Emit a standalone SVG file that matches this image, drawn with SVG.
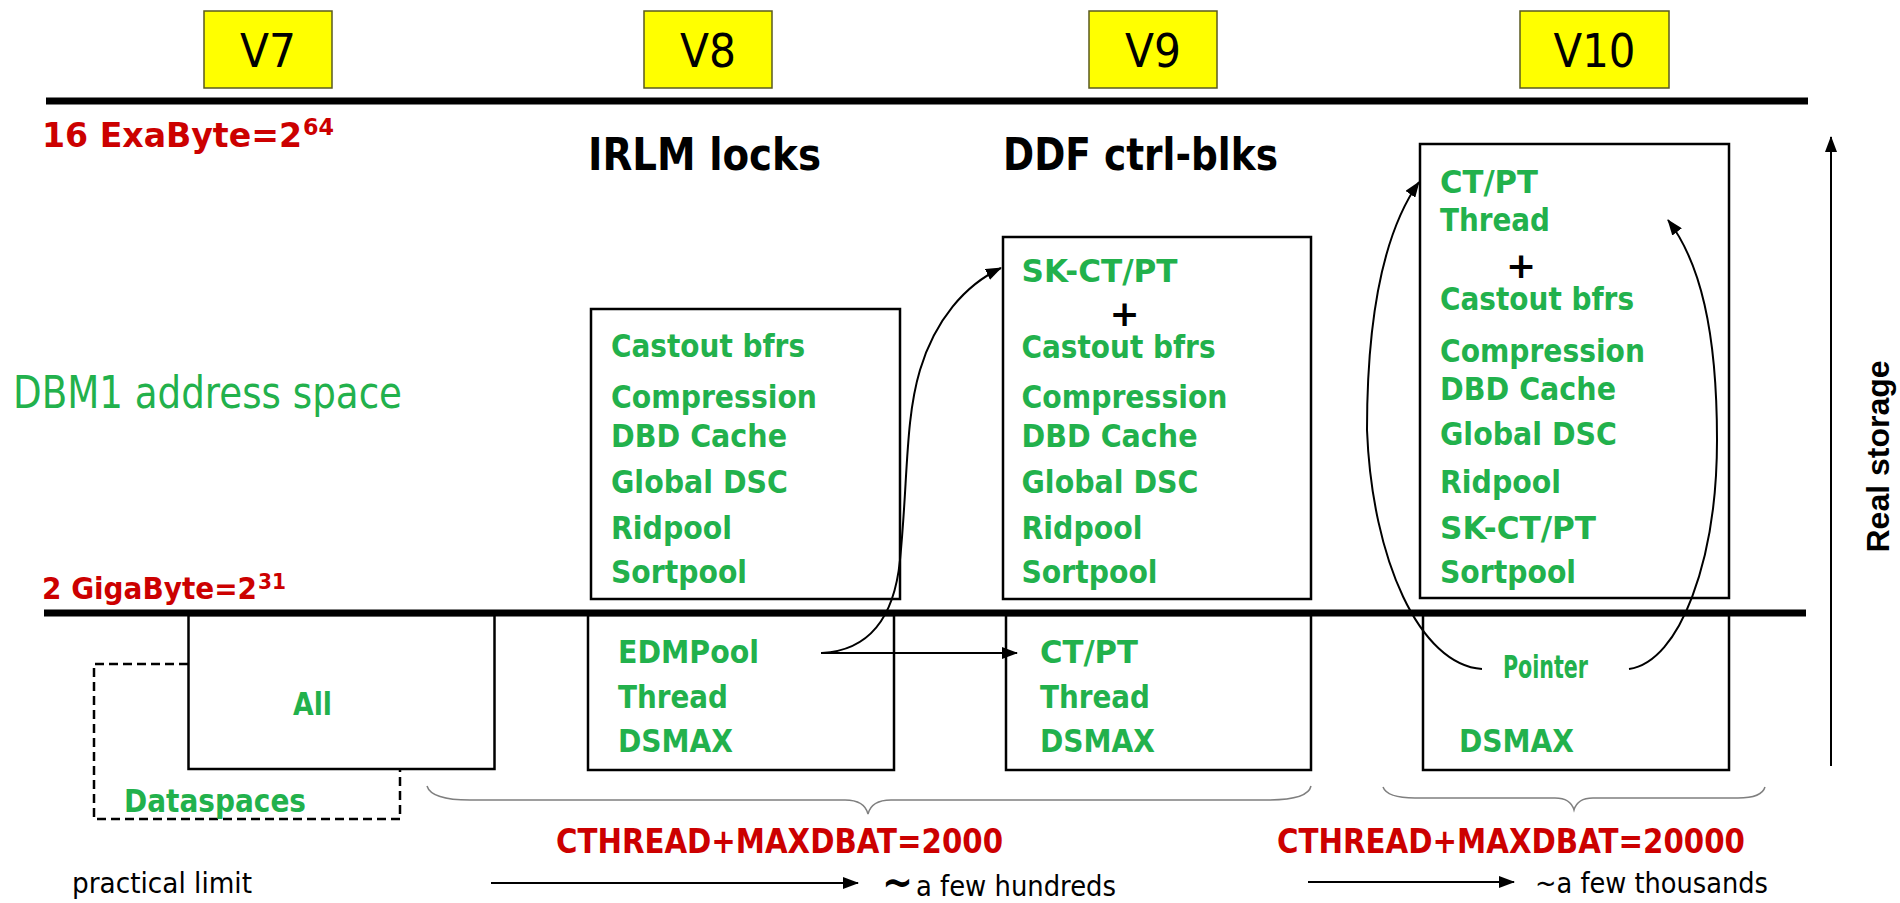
<svg xmlns="http://www.w3.org/2000/svg" width="1900" height="903" viewBox="0 0 1900 903">
<defs>
<marker id="ah" markerUnits="userSpaceOnUse" markerWidth="16" markerHeight="12" refX="15" refY="6" orient="auto">
<path d="M0,0 L16,6 L0,12 z" fill="#000"/>
</marker>
<style>
.ver{fill:#ffff00;stroke:#5a5a20;stroke-width:1.5}
.vt{font-family:"DejaVu Sans","Liberation Sans",sans-serif;font-size:47px;fill:#000;text-anchor:middle}
.box{fill:none;stroke:#000;stroke-width:2.5}
.g{font-family:"DejaVu Sans","Liberation Sans",sans-serif;font-weight:bold;font-size:32px;fill:#22B14C}
.red{font-family:"DejaVu Sans","Liberation Sans",sans-serif;font-weight:bold;fill:#CC0000}
.ttl{font-family:"DejaVu Sans","Liberation Sans",sans-serif;font-weight:bold;font-size:45px;fill:#000}
.plus{font-family:"DejaVu Sans","Liberation Sans",sans-serif;font-weight:bold;font-size:36px;fill:#000;text-anchor:middle}
.bar{stroke:#000;stroke-width:7}
.con{fill:none;stroke:#000;stroke-width:2}
.brace{fill:none;stroke:#7f7f7f;stroke-width:1.5}
.norm{font-family:"DejaVu Sans","Liberation Sans",sans-serif;font-size:29px;fill:#000}
</style>
</defs>

<g id="bars">
<line class="bar" x1="46" y1="101" x2="1808" y2="101"/>
<line class="bar" x1="44" y1="613" x2="1806" y2="613"/>
</g>

<g id="v7-label"><rect class="ver" x="204" y="11" width="128" height="77"/><text class="vt" x="268" y="67" textLength="56" lengthAdjust="spacingAndGlyphs">V7</text></g>
<g id="v8-label"><rect class="ver" x="644" y="11" width="128" height="77"/><text class="vt" x="708" y="67" textLength="56" lengthAdjust="spacingAndGlyphs">V8</text></g>
<g id="v9-label"><rect class="ver" x="1089" y="11" width="128" height="77"/><text class="vt" x="1153" y="67" textLength="56" lengthAdjust="spacingAndGlyphs">V9</text></g>
<g id="v10-label"><rect class="ver" x="1520" y="11" width="149" height="77"/><text class="vt" x="1594.5" y="67" textLength="82" lengthAdjust="spacingAndGlyphs">V10</text></g>

<g id="exabyte"><text class="red" x="42" y="147" font-size="34" textLength="260" lengthAdjust="spacingAndGlyphs">16 ExaByte=2</text><text class="red" x="303" y="135" font-size="23" textLength="31" lengthAdjust="spacingAndGlyphs">64</text></g>
<g id="gigabyte"><text class="red" x="42" y="599" font-size="30" textLength="215" lengthAdjust="spacingAndGlyphs">2 GigaByte=2</text><text class="red" x="258" y="589" font-size="22" textLength="28" lengthAdjust="spacingAndGlyphs">31</text></g>

<g id="irlm"><text class="ttl" x="588" y="170" textLength="233" lengthAdjust="spacingAndGlyphs">IRLM locks</text></g>
<g id="ddf"><text class="ttl" x="1003" y="170" textLength="275" lengthAdjust="spacingAndGlyphs">DDF ctrl-blks</text></g>

<g id="dbm1"><text x="13" y="408" font-family="DejaVu Sans,Liberation Sans,sans-serif" font-size="44" fill="#22B14C" textLength="389" lengthAdjust="spacingAndGlyphs">DBM1 address space</text></g>

<g id="v7-all">
<path d="M188 664 L94 664 L94 819 L400 819 L400 770" fill="none" stroke="#000" stroke-width="2.5" stroke-dasharray="9 5"/>
<rect class="box" x="188.5" y="615" width="306" height="154"/>
<text class="g" x="293" y="715" textLength="39" lengthAdjust="spacingAndGlyphs">All</text>
<text class="g" x="124" y="812" textLength="182" lengthAdjust="spacingAndGlyphs">Dataspaces</text>
</g>

<g id="v8-upper">
<rect class="box" x="591" y="309" width="309" height="290"/>
<text class="g" x="611" y="357" textLength="194" lengthAdjust="spacingAndGlyphs">Castout bfrs</text>
<text class="g" x="611" y="408" textLength="206" lengthAdjust="spacingAndGlyphs">Compression</text>
<text class="g" x="611" y="447" textLength="176" lengthAdjust="spacingAndGlyphs">DBD Cache</text>
<text class="g" x="611" y="493" textLength="177" lengthAdjust="spacingAndGlyphs">Global DSC</text>
<text class="g" x="611" y="539" textLength="121" lengthAdjust="spacingAndGlyphs">Ridpool</text>
<text class="g" x="611" y="583" textLength="136" lengthAdjust="spacingAndGlyphs">Sortpool</text>
</g>

<g id="v8-lower">
<rect class="box" x="588" y="615" width="306" height="155"/>
<text class="g" x="618" y="663" textLength="141" lengthAdjust="spacingAndGlyphs">EDMPool</text>
<text class="g" x="618" y="708" textLength="110" lengthAdjust="spacingAndGlyphs">Thread</text>
<text class="g" x="618" y="752" textLength="115" lengthAdjust="spacingAndGlyphs">DSMAX</text>
</g>

<g id="v9-upper">
<rect class="box" x="1003" y="237" width="308" height="362"/>
<text class="g" x="1021.5" y="282" textLength="156" lengthAdjust="spacingAndGlyphs">SK-CT/PT</text>
<text class="plus" x="1124.5" y="326">+</text>
<text class="g" x="1021.5" y="358" textLength="194" lengthAdjust="spacingAndGlyphs">Castout bfrs</text>
<text class="g" x="1021.5" y="408" textLength="206" lengthAdjust="spacingAndGlyphs">Compression</text>
<text class="g" x="1021.5" y="447" textLength="176" lengthAdjust="spacingAndGlyphs">DBD Cache</text>
<text class="g" x="1021.5" y="493" textLength="177" lengthAdjust="spacingAndGlyphs">Global DSC</text>
<text class="g" x="1021.5" y="539" textLength="121" lengthAdjust="spacingAndGlyphs">Ridpool</text>
<text class="g" x="1021.5" y="583" textLength="136" lengthAdjust="spacingAndGlyphs">Sortpool</text>
</g>

<g id="v9-lower">
<rect class="box" x="1006" y="615" width="305" height="155"/>
<text class="g" x="1040" y="663" textLength="98" lengthAdjust="spacingAndGlyphs">CT/PT</text>
<text class="g" x="1040" y="708" textLength="110" lengthAdjust="spacingAndGlyphs">Thread</text>
<text class="g" x="1040" y="752" textLength="115" lengthAdjust="spacingAndGlyphs">DSMAX</text>
</g>

<g id="v10-upper">
<rect class="box" x="1420" y="144" width="309" height="454"/>
<text class="g" x="1440" y="193" textLength="98" lengthAdjust="spacingAndGlyphs">CT/PT</text>
<text class="g" x="1440" y="231" textLength="110" lengthAdjust="spacingAndGlyphs">Thread</text>
<text class="plus" x="1521" y="278">+</text>
<text class="g" x="1440" y="310" textLength="194" lengthAdjust="spacingAndGlyphs">Castout bfrs</text>
<text class="g" x="1440" y="362" textLength="205" lengthAdjust="spacingAndGlyphs">Compression</text>
<text class="g" x="1440" y="400" textLength="176" lengthAdjust="spacingAndGlyphs">DBD Cache</text>
<text class="g" x="1440" y="445" textLength="177" lengthAdjust="spacingAndGlyphs">Global DSC</text>
<text class="g" x="1440" y="493" textLength="121" lengthAdjust="spacingAndGlyphs">Ridpool</text>
<text class="g" x="1440" y="539" textLength="156" lengthAdjust="spacingAndGlyphs">SK-CT/PT</text>
<text class="g" x="1440" y="583" textLength="136" lengthAdjust="spacingAndGlyphs">Sortpool</text>
</g>

<g id="v10-lower">
<rect class="box" x="1423" y="615" width="306" height="155"/>
<text class="g" x="1503" y="678" font-size="23" textLength="85" lengthAdjust="spacingAndGlyphs">Pointer</text>
<text class="g" x="1459" y="752" textLength="115" lengthAdjust="spacingAndGlyphs">DSMAX</text>
</g>

<g id="real-storage">
<text x="0" y="0" transform="translate(1889,456.5) rotate(-90)" font-family="Liberation Sans,Arial,sans-serif" font-weight="bold" font-size="32" text-anchor="middle" fill="#000" textLength="192" lengthAdjust="spacingAndGlyphs">Real storage</text>
</g>

<g id="braces">
<path class="brace" d="M427 786 C430 796 445 800 470 800 L845 800 C860 800 866 806 868 814 C870 806 876 800 891 800 L1268 800 C1295 800 1309 795 1311 786"/>
<path class="brace" d="M1383 787 C1386 795 1398 798 1415 798 L1555 798 C1567 798 1572 803 1574 810 C1576 803 1581 798 1593 798 L1738 798 C1755 798 1763 794 1765 787"/>
</g>

<g id="limits">
<text class="red" x="556" y="853" font-size="33" textLength="447" lengthAdjust="spacingAndGlyphs">CTHREAD+MAXDBAT=2000</text>
<text class="red" x="1277" y="853" font-size="33" textLength="468" lengthAdjust="spacingAndGlyphs">CTHREAD+MAXDBAT=20000</text>
<text class="norm" x="72" y="893" font-size="30" textLength="180" lengthAdjust="spacingAndGlyphs">practical limit</text>
<text x="882" y="896" font-family="DejaVu Sans,Liberation Sans,sans-serif" font-weight="bold" font-size="40" fill="#000" textLength="31" lengthAdjust="spacingAndGlyphs">~</text>
<text class="norm" x="916" y="896" textLength="200" lengthAdjust="spacingAndGlyphs">a few hundreds</text>
<text class="norm" x="1535" y="893" textLength="233" lengthAdjust="spacingAndGlyphs">~a few thousands</text>
</g>

<g id="connectors">
<path class="con" d="M821 653 L1017 653" marker-end="url(#ah)"/>
<path class="con" d="M822 653 C875 650 895 610 900 560 C908 480 905 420 920 370 C935 320 965 285 1001 268" marker-end="url(#ah)"/>
<path class="con" d="M1482 669 C1420 665 1372 560 1367 430 C1367 310 1385 230 1419 182" marker-end="url(#ah)"/>
<path class="con" d="M1629 669 C1680 662 1717 560 1717 440 C1717 330 1700 262 1668 220" marker-end="url(#ah)"/>
<path class="con" d="M1831 766 L1831 137" marker-end="url(#ah)"/>
<path class="con" d="M491 883 L858 883" marker-end="url(#ah)"/>
<path class="con" d="M1308 882 L1514 882" marker-end="url(#ah)"/>
</g>
</svg>
